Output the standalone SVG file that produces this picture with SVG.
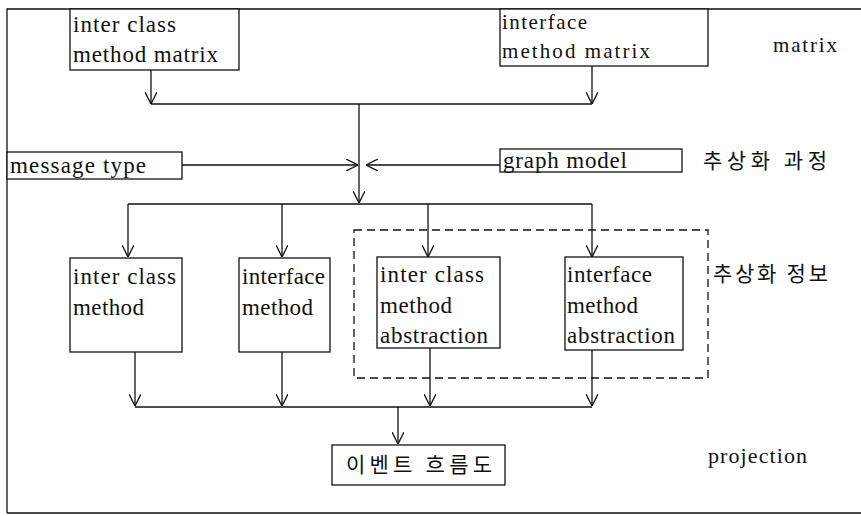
<svg xmlns="http://www.w3.org/2000/svg" width="861" height="516" viewBox="0 0 861 516">
<style>
.box{fill:#fff;stroke:#111;stroke-width:1.3}
.ln{fill:none;stroke:#111;stroke-width:1.3}
.arr{fill:none;stroke:#111;stroke-width:1.3;marker-end:url(#v)}
.t{font-family:"Liberation Serif","DejaVu Serif",serif;font-size:23px;fill:#111}
.s{font-size:21px}
.p{font-size:22px}
.k{font-family:"Noto Sans CJK KR","Noto Sans",sans-serif;font-size:21px;fill:#111}
.dash{fill:none;stroke:#111;stroke-width:1.3;stroke-dasharray:8 5}
</style>
<defs>
<marker id="v" viewBox="0 0 12 12" refX="12" refY="6" markerWidth="12" markerHeight="12" markerUnits="userSpaceOnUse" orient="auto">
<path d="M0,0 L12,6 L0,12" fill="none" stroke="#111" stroke-width="1.3"/>
</marker>
</defs>
<g id="frame">
<path class="ln" d="M7,513 V9 H861 M7,513 H861"/>
</g>
<g id="abstraction-area">
<rect class="dash" x="354" y="230" width="354" height="148"/>
</g>
<g id="connectors">
<path class="arr" d="M151,70 V104"/>
<path class="arr" d="M592,66 V104"/>
<path class="ln" d="M151,104 H592"/>
<path class="arr" d="M359,104 V203"/>
<path class="arr" d="M182,165 H358"/>
<path class="arr" d="M500,165 H366"/>
<path class="ln" d="M128,204 H592"/>
<path class="arr" d="M128,204 V257"/>
<path class="arr" d="M282,204 V257"/>
<path class="arr" d="M428,204 V257"/>
<path class="arr" d="M592,204 V257"/>
<path class="arr" d="M135,352 V406"/>
<path class="arr" d="M282,352 V406"/>
<path class="arr" d="M430,348 V406"/>
<path class="arr" d="M592,350 V406"/>
<path class="ln" d="M135,407 H592"/>
<path class="arr" d="M398,407 V444"/>
</g>
<g id="inter-class-method-matrix">
<rect class="box" x="70" y="9" width="169" height="61"/>
<text class="t" x="73" y="32" textLength="103">inter class</text>
<text class="t" x="73" y="62" textLength="145">method matrix</text>
</g>
<g id="interface-method-matrix">
<rect class="box" x="500" y="9" width="208" height="57"/>
<text class="t s" x="502" y="29" textLength="85">interface</text>
<text class="t s" x="502" y="58" textLength="148">method matrix</text>
</g>
<g id="label-matrix">
<text class="t s" x="773" y="52" textLength="64">matrix</text>
</g>
<g id="message-type">
<rect class="box" x="7" y="152" width="175" height="27"/>
<text class="t" x="10" y="173" textLength="136">message type</text>
</g>
<g id="graph-model">
<rect class="box" x="500" y="149" width="182" height="23"/>
<text class="t" x="503" y="168" textLength="124">graph model</text>
</g>
<g id="label-process">
<text class="k" x="703" y="168" textLength="124">추상화 과정</text>
</g>
<g id="inter-class-method">
<rect class="box" x="70" y="258" width="112" height="94"/>
<text class="t" x="73" y="284" textLength="103">inter class</text>
<text class="t" x="73" y="315" textLength="71">method</text>
</g>
<g id="interface-method">
<rect class="box" x="239" y="258" width="91" height="94"/>
<text class="t" x="242" y="284" textLength="83">interface</text>
<text class="t" x="242" y="315" textLength="71">method</text>
</g>
<g id="inter-class-method-abstraction">
<rect class="box" x="377" y="257" width="123" height="91"/>
<text class="t" x="380" y="282" textLength="104">inter class</text>
<text class="t" x="380" y="313" textLength="72">method</text>
<text class="t" x="380" y="343" textLength="108">abstraction</text>
</g>
<g id="interface-method-abstraction">
<rect class="box" x="565" y="257" width="118" height="93"/>
<text class="t" x="567" y="282" textLength="85">interface</text>
<text class="t" x="567" y="313" textLength="71">method</text>
<text class="t" x="567" y="343" textLength="108">abstraction</text>
</g>
<g id="label-info">
<text class="k" x="713" y="281" textLength="115">추상화 정보</text>
</g>
<g id="event-flow">
<rect class="box" x="332" y="445" width="173" height="40"/>
<text class="k" x="346" y="472" textLength="146">이벤트 흐름도</text>
</g>
<g id="label-projection">
<text class="t p" x="708" y="463" textLength="99">projection</text>
</g>
</svg>
